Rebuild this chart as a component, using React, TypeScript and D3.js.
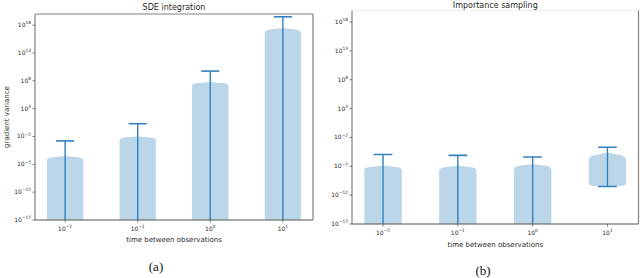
import React from 'react';
import * as d3 from 'd3';

// exponents of the x categories (time between observations)
const xExps = [-2, -1, 0, 1];
// y tick exponents
const yTickExps = [18, 13, 8, 3, -2, -7, -12, -17];

// SDE integration violins (log10 of gradient variance)
const sdeMin = [-25, -25, -25, -25];
const sdeShoulder = [-6.2, -2.6, 7.1, 16.6];
const sdePeak = [-5.5, -2.0, 7.8, 17.5];
const sdeMax = [-2.8, 0.3, 9.75, 19.5];

// Importance sampling violins
const isMin = [-25, -25, -25, -10.5];
const isShoulder = [-7.6, -7.7, -7.6, -6.0];
const isPeak = [-6.9, -6.9, -6.6, -4.6];
const isMax = [-4.95, -5.1, -5.4, -3.7];

const FILL = '#bcd6e9';
const LINE = '#3281bf';
const TXT = '#2a2a2a';

type PanelProps = {
  id: string;
  title: string;
  caption: string;
  left: number;
  right: number;
  top: number;
  bottom: number;
  mins: number[];
  shoulders: number[];
  peaks: number[];
  maxes: number[];
  spineColors: { top: string; right: string; bottom: string; left: string };
  titleY: number;
  xLabelY: number;
  captionX: number;
  captionY: number;
};

function Pow({ exp, x, y, anchor, size }: { exp: number; x: number; y: number; anchor: string; size: number }) {
  const e = exp < 0 ? '\u2212' + Math.abs(exp) : String(exp);
  return (
    <text x={x} y={y} textAnchor={anchor} fontSize={size} fill={TXT} fontFamily="DejaVu Sans">
      10<tspan dy={-size * 0.45} fontSize={size * 0.72}>{e}</tspan>
    </text>
  );
}

function Panel(p: PanelProps) {
  const x = d3.scaleLinear().domain([-0.415, 3.415]).range([p.left, p.right]);
  const y = d3.scaleLog().domain([1e-17, 1e20]).range([p.bottom, p.top]);
  const unit = x(1) - x(0);
  const hw = unit * 0.25;
  const cap = unit * 0.125;

  const violin = (i: number) => {
    const lo = p.mins[i];
    const s = p.shoulders[i];
    const pk = p.peaks[i];
    const H = pk - s;
    const pts: [number, number][] = [
      [lo, 0],
      [lo + 0.08, 0.75],
      [lo + 0.3, 0.95],
      [lo + 0.6, 1],
      [s, 1],
      [s + 0.3 * H, 0.96],
      [s + 0.5 * H, 0.88],
      [s + 0.63 * H, 0.78],
      [s + 0.82 * H, 0.4],
      [pk, 0],
    ];
    const cx = x(i);
    const area = d3
      .area<[number, number]>()
      .y((d) => y(Math.pow(10, d[0])))
      .x0((d) => cx - d[1] * hw)
      .x1((d) => cx + d[1] * hw)
      .curve(d3.curveMonotoneY);
    return area(pts) || '';
  };

  const clipId = 'clip-' + p.id;
  const mid = (p.left + p.right) / 2;

  return (
    <g>
      <defs>
        <clipPath id={clipId}>
          <rect x={p.left} y={p.top} width={p.right - p.left} height={p.bottom - p.top} />
        </clipPath>
      </defs>
      <g clipPath={`url(#${clipId})`}>
        {xExps.map((_, i) => (
          <path key={'v' + i} d={violin(i)} fill={FILL} />
        ))}
        {xExps.map((_, i) => {
          const cx = x(i);
          const yMax = y(Math.pow(10, p.maxes[i]));
          const yMin = y(Math.pow(10, p.mins[i]));
          return (
            <g key={'l' + i} stroke={LINE} strokeWidth={1.4}>
              <line x1={cx} x2={cx} y1={yMax} y2={yMin} />
              <line x1={cx - cap} x2={cx + cap} y1={yMax} y2={yMax} strokeWidth={1.6} />
              <line x1={cx - cap} x2={cx + cap} y1={yMin} y2={yMin} strokeWidth={1.6} />
            </g>
          );
        })}
      </g>
      {/* spines */}
      <line x1={p.left} x2={p.right} y1={p.top} y2={p.top} stroke={p.spineColors.top} strokeWidth={1.2} />
      <line x1={p.right} x2={p.right} y1={p.top} y2={p.bottom} stroke={p.spineColors.right} strokeWidth={1.2} />
      <line x1={p.left} x2={p.right} y1={p.bottom} y2={p.bottom} stroke={p.spineColors.bottom} strokeWidth={1.2} />
      <line x1={p.left} x2={p.left} y1={p.top} y2={p.bottom} stroke={p.spineColors.left} strokeWidth={1.2} />
      {/* y ticks */}
      {yTickExps.map((e) => {
        const ty = y(Math.pow(10, e));
        return (
          <g key={'yt' + e}>
            <line x1={p.left - 2.5} x2={p.left} y1={ty} y2={ty} stroke="#555" strokeWidth={0.8} />
            <Pow exp={e} x={p.left - 4} y={ty + 2} anchor="end" size={6} />
          </g>
        );
      })}
      {/* x ticks */}
      {xExps.map((e, i) => {
        const tx = x(i);
        return (
          <g key={'xt' + e}>
            <line x1={tx} x2={tx} y1={p.bottom} y2={p.bottom + 2.5} stroke="#555" strokeWidth={0.8} />
            <Pow exp={e} x={tx} y={p.bottom + 11} anchor="middle" size={6} />
          </g>
        );
      })}
      <text x={mid} y={p.titleY} textAnchor="middle" fontSize={8} fill={TXT} fontFamily="DejaVu Sans">
        {p.title}
      </text>
      <text x={mid} y={p.xLabelY} textAnchor="middle" fontSize={7} fill={TXT} fontFamily="DejaVu Sans">
        time between observations
      </text>
      <text x={p.captionX} y={p.captionY} textAnchor="middle" fontSize={13} fill="#111" fontFamily="Liberation Serif">
        {p.caption}
      </text>
    </g>
  );
}

export default function App() {
  return (
    <svg width={640} height={278} style={{ position: 'absolute', left: 0, top: 0, background: '#fff' }}>
      <rect width={640} height={278} fill="#fff" />
      <Panel
        id="a"
        title="SDE integration"
        caption="(a)"
        left={35}
        right={313}
        top={14}
        bottom={220}
        mins={sdeMin}
        shoulders={sdeShoulder}
        peaks={sdePeak}
        maxes={sdeMax}
        spineColors={{ top: '#808080', right: '#808080', bottom: '#555', left: '#808080' }}
        titleY={10}
        xLabelY={242}
        captionX={156}
        captionY={271}
      />
      <text
        transform="translate(9,117) rotate(-90)"
        textAnchor="middle"
        fontSize={7}
        fill={TXT}
        fontFamily="DejaVu Sans"
      >
        gradient variance
      </text>
      <Panel
        id="b"
        title="Importance sampling"
        caption="(b)"
        left={352}
        right={638.5}
        top={10.5}
        bottom={224}
        mins={isMin}
        shoulders={isShoulder}
        peaks={isPeak}
        maxes={isMax}
        spineColors={{ top: '#eeeeee', right: '#808080', bottom: '#555', left: '#808080' }}
        titleY={8}
        xLabelY={247}
        captionX={483}
        captionY={275}
      />
    </svg>
  );
}
